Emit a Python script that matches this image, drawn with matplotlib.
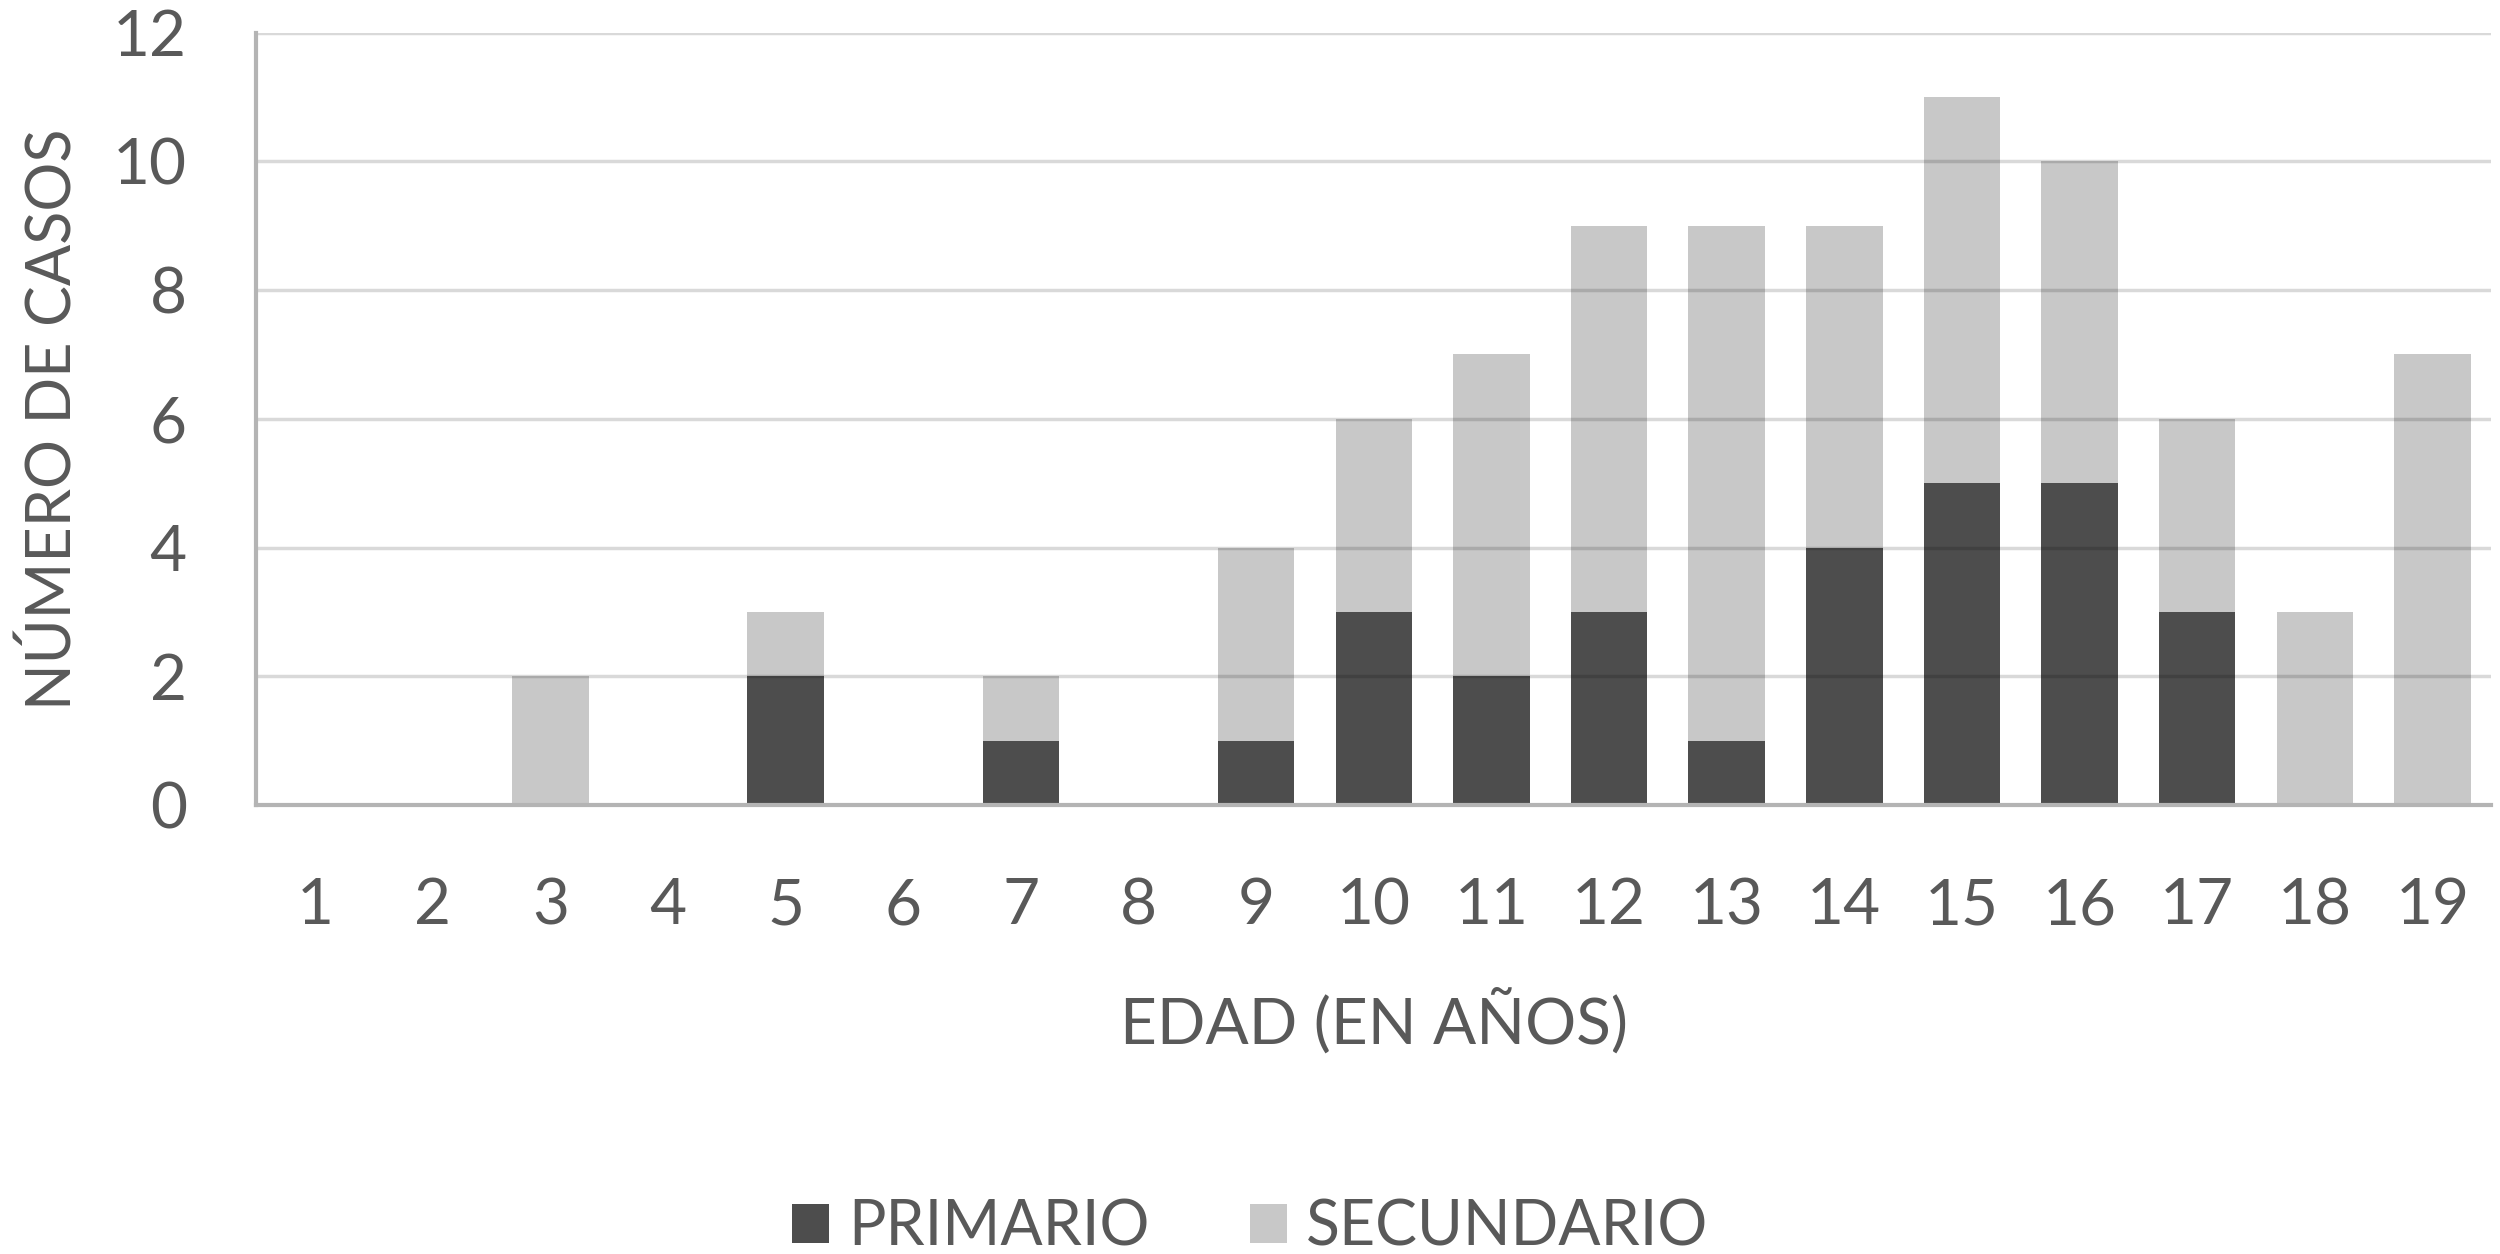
import matplotlib
matplotlib.use("Agg")
import matplotlib.pyplot as plt
import numpy as np

ages = [str(i) for i in range(1, 20)]
primario = [0, 0, 0, 0, 2, 0, 1, 0, 1, 3, 2, 3, 1, 4, 5, 5, 3, 0, 0]
secundario = [0, 0, 2, 0, 1, 0, 1, 0, 3, 3, 5, 6, 8, 5, 6, 5, 3, 3, 7]
yticks = [0, 2, 4, 6, 8, 10, 12]

plt.rcParams['font.family'] = ['Lato', 'DejaVu Sans']
txt = '#595959'
dark = '#4d4d4d'
light = '#c8c8c8'

fig = plt.figure(figsize=(25, 12.54), dpi=100)
ax = fig.add_axes([0.1025, 0.358, 0.894, 0.616])

x = np.arange(len(ages))
w = 0.65
ax.bar(x, primario, w, color=dark, label='PRIMARIO', zorder=2)
ax.bar(x, secundario, w, bottom=primario, color=light, label='SECUNDARIO', zorder=2)

ax.set_xlim(-0.5, len(ages) - 0.5)
ax.set_ylim(0, 12)
ax.set_yticks(yticks)
ax.set_yticklabels([str(v) for v in yticks])
ax.set_xticks(x)
ax.set_xticklabels(ages)
for yv in yticks[1:]:
    ax.axhline(yv, color='black', alpha=0.15, lw=2.5, zorder=3)

for s in ['top', 'right']:
    ax.spines[s].set_visible(False)
for s in ['left', 'bottom']:
    ax.spines[s].set_color('#b4b4b4')
    ax.spines[s].set_linewidth(3)
    ax.spines[s].set_zorder(4)

ax.tick_params(axis='both', length=0, labelsize=46, labelcolor=txt)
ax.tick_params(axis='x', pad=52)
ax.tick_params(axis='y', pad=50)

ax.set_xlabel('EDAD (EN AÑOS)', fontsize=46, color=txt, labelpad=38)
ax.set_ylabel('NÚMERO DE CASOS', fontsize=44, color=txt, labelpad=22)

leg = fig.legend(loc='center', bbox_to_anchor=(0.5, 0.021), ncol=2, frameon=False,
                 fontsize=45, handlelength=0.6, handleheight=0.6, handletextpad=0.3,
                 columnspacing=1.6)
for t in leg.get_texts():
    t.set_color(txt)

fig.savefig('out.png', dpi=100, facecolor='white')
